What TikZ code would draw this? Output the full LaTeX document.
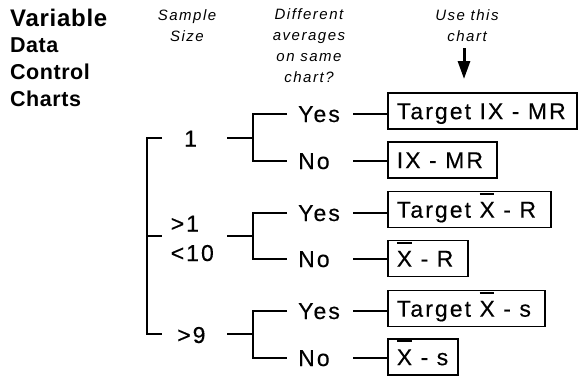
\documentclass[tikz,border=0pt]{standalone}
\usepackage{fontspec}
\setmainfont{Liberation Sans}
\newfontfamily\treefont[LetterSpace=9,FakeBold=0.3]{Liberation Sans}
\newfontfamily\headfont[LetterSpace=10]{Liberation Sans}
\newfontfamily\titlefont[LetterSpace=2.5]{Liberation Sans Bold}
\newfontfamily\titlefontw[LetterSpace=3]{Liberation Sans Bold}
\usetikzlibrary{arrows.meta}
\newcommand\xbar{\makebox[0pt][l]{\rule[1.0em]{0.64em}{0.09em}}X}
\newcommand\boxtxt[2]{\makebox[#1][l]{#2}}
\tikzset{
  tree/.style={font=\treefont\fontsize{23}{27}\selectfont, inner sep=0pt, anchor=base west},
  head/.style={font=\headfont\itshape\fontsize{15}{21}\selectfont, inner sep=0pt, anchor=base},
  titlebig/.style={font=\titlefontw\fontsize{24}{28}\selectfont, inner sep=0pt, anchor=base west},
  titlesmall/.style={font=\titlefont\fontsize{21.5}{25}\selectfont, inner sep=0pt, anchor=base west},
  chartbox/.style={draw, line width=1.6pt, font=\treefont\fontsize{23}{27}\selectfont,
    anchor=west, minimum height=36pt, inner xsep=9pt, inner ysep=0pt,
    text height=16.4pt, text depth=0pt},
  wire/.style={line width=1.6pt},
  bigarrow/.style={line width=3pt, -{Triangle[length=18pt,width=12pt]}}
}
\begin{document}
\begin{tikzpicture}[x=1pt,y=-1pt]
\useasboundingbox (0,0) rectangle (581,378);
% title
\node[titlebig] (t1) at (10,26.5) {Variable};
\node[titlesmall] (t2) at (10,52.5) {Data};
\node[titlesmall] (t3) at (10,79.5) {Control};
\node[titlesmall] (t4) at (10,106) {Charts};
% headers
\node[head] (h1a) at (187,20) {Sample};
\node[head] (h1b) at (187,41) {Size};
\node[head] (h2a) at (309,19) {Different};
\node[head] (h2b) at (309,40) {averages};
\node[head] (h2c) at (309,61) {on same};
\node[head] (h2d) at (309,82) {chart?};
\node[head] (h3a) at (467,20) {Use this};
\node[head] (h3b) at (467,41) {chart};
\coordinate (arT) at (464,48);
\coordinate (arH) at (464,79);
\draw[bigarrow] (arT) -- (arH);
% sample size labels
\node[tree] (s1) at (184,146.5) {1};
\node[tree] (s2a) at (170.5,231.5) {>1};
\node[tree] (s2b) at (170.5,261) {<10};
\node[tree] (s3) at (177,343) {>9};
% bracket
\coordinate (bk1) at (147,138);
\coordinate (bk2) at (147,236);
\coordinate (bk3) at (147,334);
\coordinate (bt1) at (162,138);
\coordinate (bt2) at (162,236);
\coordinate (bt3) at (162,334);
\draw[wire] (bt1) -- (bk1) -- (bk3) -- (bt3);
\draw[wire] (bk2) -- (bt2);
% groups
\foreach \g/\m/\yy/\nn in {1/138/114/161, 2/236/213/259, 3/334/311/358}{
  \coordinate (ls\g) at (227,\m);
  \coordinate (fk\g) at (253,\m);
  \coordinate (fy\g) at (253,\yy);
  \coordinate (fn\g) at (253,\nn);
  \coordinate (ey\g) at (287,\yy);
  \coordinate (en\g) at (287,\nn);
  \draw[wire] (ls\g) -- (fk\g);
  \draw[wire] (ey\g) -- (fy\g) -- (fn\g) -- (en\g);
  \node[tree] (yes\g) at (298,\yy+8) {Yes};
  \node[tree] (no\g) at (298,\nn+8) {No};
  \coordinate (cy\g) at (353,\yy);
  \coordinate (cn\g) at (353,\nn);
}
% chart boxes
\node[chartbox] (b1) at (387,111) {\boxtxt{171pt}{Target IX - MR}};
\node[chartbox] (b2) at (387,160) {\boxtxt{91pt}{IX - MR}};
\node[chartbox] (b3) at (387,209.5) {\boxtxt{145pt}{Target \xbar\ - R}};
\node[chartbox] (b4) at (387,258.5) {\boxtxt{62pt}{\xbar\ - R}};
\node[chartbox] (b5) at (387,308.5) {\boxtxt{139pt}{Target \xbar\ - s}};
\node[chartbox] (b6) at (387,357) {\boxtxt{52pt}{\xbar\ - s}};
\draw[wire] (cy1) -- (cy1 -| b1.west);
\draw[wire] (cn1) -- (cn1 -| b2.west);
\draw[wire] (cy2) -- (cy2 -| b3.west);
\draw[wire] (cn2) -- (cn2 -| b4.west);
\draw[wire] (cy3) -- (cy3 -| b5.west);
\draw[wire] (cn3) -- (cn3 -| b6.west);
\end{tikzpicture}
\end{document}
